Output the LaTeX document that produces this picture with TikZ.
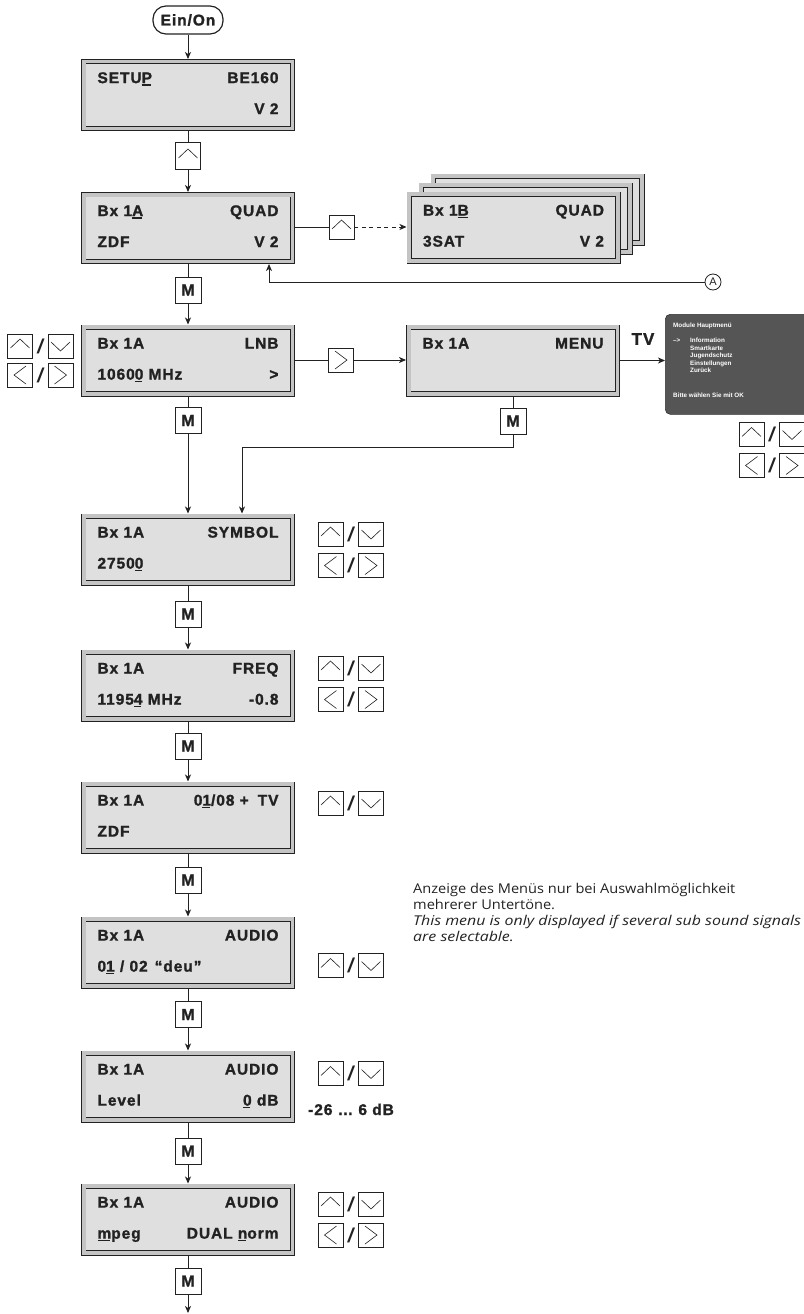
\documentclass[tikz,border=0pt]{standalone}
\usepackage{fontspec}
\setmainfont{Liberation Sans}
\newfontfamily\lcdfont[LetterSpace=6,BoldFeatures={FakeBold=1.4}]{Liberation Sans}
\newfontfamily\explfont[FakeStretch=1.08,ItalicFeatures={FakeStretch=1.18}]{Open Sans}
\usetikzlibrary{arrows.meta,calc}
\definecolor{lcdfill}{HTML}{DFDFDF}
\definecolor{lcdband}{HTML}{C4C4C4}
\definecolor{ink}{HTML}{222222}
\definecolor{tvgray}{HTML}{555555}
\newcommand\ulc[1]{\setbox0\hbox{#1}\rlap{\rule[-2.6pt]{\dimexpr\wd0-1.2pt\relax}{1.5pt}}\box0{}}
\newcommand\lcdbox[6]{\node[lcd] (#1) at (#2) {\begin{tabular*}{181pt}{@{}l@{\extracolsep{\fill}}r@{}}#3 & #4\\[13pt] #5 & #6\end{tabular*}};}
\newcommand\udkeys[3]{%
  \node[ukey] (#1u) at (#2,#3) {};
  \node[slash] (#1s) at ($(#1u)+(20.25,0)$) {/};
  \node[dkey] (#1d) at ($(#1u)+(40.5,0)$) {};}
\newcommand\lrkeys[3]{%
  \node[lkey] (#1l) at (#2,#3) {};
  \node[slash] (#1t) at ($(#1l)+(20.25,0)$) {/};
  \node[rkey] (#1r) at ($(#1l)+(40.5,0)$) {};}
\tikzset{
  conn/.style={draw=ink, line width=0.9pt},
  arr/.style={conn, -{Stealth[length=7pt,width=6pt,inset=2pt]}},
  darr/.style={arr, dash pattern=on 4pt off 3.5pt},
  lcd/.style={draw=ink, line width=0.9pt, double=lcdband, double distance=3.6pt,
    fill=lcdfill, minimum width=208.6pt, minimum height=66.6pt, outer sep=2.7pt,
    inner sep=0pt, font=\lcdfont\bfseries\fontsize{15.5}{18}\selectfont, text=ink},
  key/.style={draw=ink, line width=0.9pt, fill=white, minimum width=25pt,
    minimum height=24pt, inner sep=0pt},
  ukey/.style={key, path picture={\draw[ink, line width=0.6pt]
    ([shift={(-9.5,2)}]path picture bounding box.center) -- ++(9.5,-9) -- ++(9.5,9);}},
  dkey/.style={key, path picture={\draw[ink, line width=0.6pt]
    ([shift={(-9.5,-4)}]path picture bounding box.center) -- ++(9.5,9) -- ++(9.5,-9);}},
  rkey/.style={key, path picture={\draw[ink, line width=0.6pt]
    ([shift={(-6,-9)}]path picture bounding box.center) -- ++(12,9) -- ++(-12,9);}},
  lkey/.style={key, path picture={\draw[ink, line width=0.6pt]
    ([shift={(6,-9)}]path picture bounding box.center) -- ++(-12,9) -- ++(12,9);}},
  mkey/.style={key, minimum width=26pt, minimum height=26pt,
    font=\lcdfont\bfseries\fontsize{16}{16}\selectfont, text=ink},
  slash/.style={inner sep=0pt, font=\bfseries\itshape\fontsize{20}{20}\selectfont, text=ink},
  tvtxt/.style={anchor=base west, inner sep=0pt, text=white,
    font=\bfseries\fontsize{6.3}{7}\selectfont},
  expl/.style={anchor=base west, inner sep=0pt, text=ink,
    font=\explfont\fontsize{13.5}{16}\selectfont},
}
\begin{document}
\begin{tikzpicture}[x=1pt, y=-1pt]
\useasboundingbox (0,0) rectangle (803,1314);

% start
\node[draw=ink, line width=1.2pt, rounded corners=13pt, minimum width=70pt,
  minimum height=28pt, inner sep=0pt, text=ink,
  font=\lcdfont\bfseries\fontsize{15.5}{18}\selectfont] (ein) at (188,20) {Ein/On};

% LCD boxes
\lcdbox{setup}{188,95}{SETU\ulc{P}}{BE160}{}{V 2}
\lcdbox{b1a}{188,228}{Bx 1\ulc{A}}{QUAD}{ZDF}{V 2}
\node[lcd] (b1bc) at (537.5,209.5) {};
\node[lcd] (b1bb) at (525.5,218.5) {};
\lcdbox{b1b}{513.5,227.5}{Bx 1\ulc{B}}{QUAD}{3SAT}{V 2}
\lcdbox{lnb}{188,360.5}{Bx 1A}{LNB}{1060\ulc{0} MHz}{>}
\lcdbox{menu}{513,360.5}{Bx 1A}{MENU}{}{}
\lcdbox{symbol}{188,549.5}{Bx 1A}{SYMBOL}{2750\ulc{0}}{}
\lcdbox{freq}{188,685.5}{Bx 1A}{FREQ}{1195\ulc{4} MHz}{-0.8}
\lcdbox{chan}{188,817.5}{Bx 1A}{0\ulc{1}/08 +\hspace{9pt}TV}{ZDF}{}
\lcdbox{audioa}{188,952.5}{Bx 1A}{AUDIO}{0\ulc{1} / 02\hspace{7pt}“deu”}{}
\lcdbox{audiob}{188,1086.5}{Bx 1A}{AUDIO}{Level}{\ulc{0} dB}
\lcdbox{audioc}{188,1219.5}{Bx 1A}{AUDIO}{\ulc{m}peg}{DUAL \ulc{n}orm}

% keys in the main flow
\node[ukey, minimum height=27pt] (k0) at (188,156) {};
\node[mkey] (m1) at (188,290) {M};
\node[ukey] (k1) at (341.5,227) {};
\node[rkey] (k2) at (341,360) {};
\node[mkey] (m2) at (188,420.5) {M};
\node[mkey] (m3) at (513,421) {M};
\node[mkey] (m4) at (188,614) {M};
\node[mkey] (m5) at (188,746) {M};
\node[mkey] (m6) at (188,880) {M};
\node[mkey] (m7) at (188,1014.5) {M};
\node[mkey] (m8) at (188,1151) {M};
\node[mkey] (m9) at (188,1281) {M};
\coordinate (fin) at (188,1313);

% side key pairs
\udkeys{lnbk}{20}{346}
\lrkeys{lnbh}{20}{375}
\udkeys{tvk}{751.5}{434.5}
\lrkeys{tvh}{751.5}{465.5}
\udkeys{symk}{330.5}{534}
\lrkeys{symh}{330.5}{565.5}
\udkeys{frk}{330.5}{668}
\lrkeys{frh}{330.5}{699.5}
\udkeys{chk}{330.5}{803}
\udkeys{aak}{330.5}{965.5}
\udkeys{abk}{330.5}{1073.5}
\udkeys{ack}{330.5}{1204}
\lrkeys{ach}{330.5}{1235}

% TV label and screen
\node[inner sep=0pt, text=ink, font=\lcdfont\bfseries\fontsize{17}{18}\selectfont] (tvl) at (643,339) {TV};
\node[draw=black!80, line width=0.6pt, fill=tvgray, rounded corners=5pt, anchor=north west,
  minimum width=150pt, minimum height=100pt] (tv) at (665,314) {};
\node[tvtxt] (tv0) at (673,327) {Module Hauptmenü};
\node[tvtxt] (tva) at (673,342.5) {-->};
\node[tvtxt] (tv1) at (690,342.5) {Information};
\node[tvtxt] (tv2) at (690,350) {Smartkarte};
\node[tvtxt] (tv3) at (690,357.5) {Jugendschutz};
\node[tvtxt] (tv4) at (690,365) {Einstellungen};
\node[tvtxt] (tv5) at (690,372.5) {Zurück};
\node[tvtxt] (tv6) at (673,397) {Bitte wählen Sie mit OK};

% circle A
\node[draw=ink, circle, line width=0.8pt, minimum size=16pt, inner sep=0pt,
  font=\fontsize{11}{11}\selectfont, text=ink] (cA) at (713,282) {A};
\coordinate (ret) at (269,282);

% range text
\node[anchor=base west, inner sep=0pt, text=ink,
  font=\lcdfont\bfseries\fontsize{15.5}{18}\selectfont] (rng) at (308,1115) {-26 … 6 dB};

% explanation
\node[expl] (ex1) at (413,893) {Anzeige des Menüs nur bei Auswahlmöglichkeit};
\node[expl] (ex2) at (413,909) {mehrerer Untertöne.};
\node[expl] (ex3) at (413,925) {\itshape This menu is only displayed if several sub sound signals};
\node[expl] (ex4) at (413,941) {\itshape are selectable.};

% connectors
\draw[arr] (ein) -- (setup);
\draw[conn] (setup) -- (k0);
\draw[arr] (k0) -- (b1a);
\draw[conn] (b1a.east |- k1) -- (k1);
\draw[darr] (k1) -- (k1 -| b1b.west);
\draw[arr] (cA.west) -- (ret) -- (ret |- b1a.south);
\draw[conn] (b1a) -- (m1);
\draw[arr] (m1) -- (lnb);
\draw[conn] (lnb.east |- k2) -- (k2);
\draw[arr] (k2) -- (k2 -| menu.west);
\draw[arr] (menu.east) -- (tv.west |- menu.east);
\draw[conn] (lnb) -- (m2);
\draw[arr] (m2) -- (symbol);
\coordinate (mt) at (513,447);
\coordinate (ml) at (242,447);
\draw[conn] (menu) -- (m3);
\draw[arr] (m3) -- (mt) -- (ml) -- (ml |- symbol.north);
\draw[conn] (symbol) -- (m4);
\draw[arr] (m4) -- (freq);
\draw[conn] (freq) -- (m5);
\draw[arr] (m5) -- (chan);
\draw[conn] (chan) -- (m6);
\draw[arr] (m6) -- (audioa);
\draw[conn] (audioa) -- (m7);
\draw[arr] (m7) -- (audiob);
\draw[conn] (audiob) -- (m8);
\draw[arr] (m8) -- (audioc);
\draw[conn] (audioc) -- (m9);
\draw[arr] (m9) -- (fin);
\end{tikzpicture}
\end{document}
